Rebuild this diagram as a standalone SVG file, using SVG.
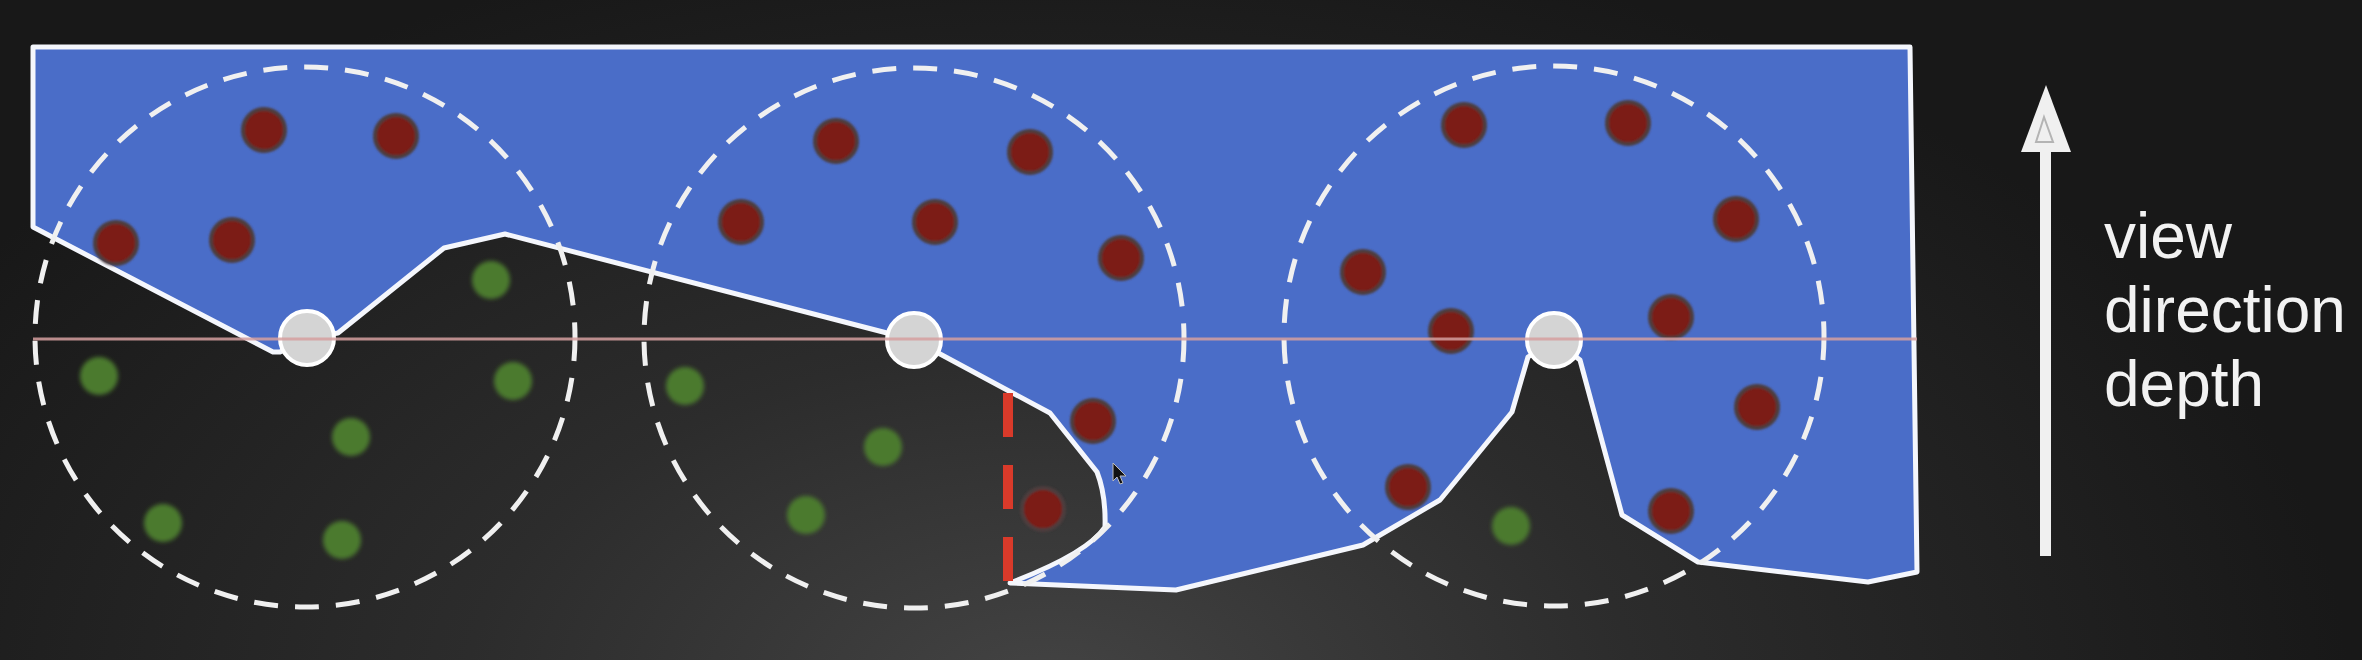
<svg xmlns="http://www.w3.org/2000/svg" width="2362" height="660" viewBox="0 0 2362 660">
<defs>
<radialGradient id="bg" gradientUnits="userSpaceOnUse" cx="1050" cy="700" r="1300" gradientTransform="translate(1050 700) scale(1 0.6) translate(-1050 -700)">
<stop offset="0" stop-color="#444444"/>
<stop offset="0.45" stop-color="#2c2c2c"/>
<stop offset="1" stop-color="#181818"/>
</radialGradient>
<filter id="soft" x="-50%" y="-50%" width="200%" height="200%"><feGaussianBlur stdDeviation="2.2"/></filter>
<filter id="soft2" x="-50%" y="-50%" width="200%" height="200%"><feGaussianBlur stdDeviation="0.8"/></filter>
</defs>
<style>
.region{fill:#4a6dc8;stroke:#f4f6fc;stroke-width:5;stroke-linejoin:round}
.kernel{fill:none;stroke:#f0f0f0;stroke-width:5;stroke-dasharray:24 17}
.red{fill:#7c1a14;stroke:#4e3c3e;stroke-width:4;filter:url(#soft2)}
.green{fill:#4b7a2e;filter:url(#soft)}
.pixel{fill:#d4d4d4;stroke:#ffffff;stroke-width:4}
.depth{stroke:#d6a0a0;stroke-width:3;opacity:0.85}
.cut{stroke:#d93a2a;stroke-width:10;stroke-dasharray:44 28}
.label{font-family:"Liberation Sans",Arial,sans-serif;font-size:64px;fill:#f2f2f2}
</style>
<rect id="background" x="0" y="0" width="2362" height="660" fill="url(#bg)"/>
<g id="visible-region">
<path class="region" d="M33,47 L1910,47 L1917,572 L1868,582 L1698,562 L1622,515 L1580,360 L1554,340 L1528,357 L1512,412 L1440,500 L1363,545 L1176,590 L1010,583 Q1088,553 1105,527 Q1106,495 1097,472 L1050,413 L914,340 L505,234 L444,248 L338,333 L307,338 L280,352 L273,352 L33,227 Z"/>
</g>
<g id="cut-line"><line class="cut" x1="1008" y1="393" x2="1008" y2="583"/></g>
<g id="samples-red">
<circle class="red" cx="264" cy="130" r="21"/>
<circle class="red" cx="396" cy="136" r="21"/>
<circle class="red" cx="116" cy="243" r="21"/>
<circle class="red" cx="232" cy="240" r="21"/>
<circle class="red" cx="741" cy="222" r="21"/>
<circle class="red" cx="836" cy="141" r="21"/>
<circle class="red" cx="1030" cy="152" r="21"/>
<circle class="red" cx="935" cy="222" r="21"/>
<circle class="red" cx="1121" cy="258" r="21"/>
<circle class="red" cx="1093" cy="421" r="21"/>
<circle class="red" cx="1043" cy="509" r="21"/>
<circle class="red" cx="1464" cy="125" r="21"/>
<circle class="red" cx="1628" cy="123" r="21"/>
<circle class="red" cx="1736" cy="219" r="21"/>
<circle class="red" cx="1363" cy="272" r="21"/>
<circle class="red" cx="1451" cy="331" r="21"/>
<circle class="red" cx="1671" cy="317" r="21"/>
<circle class="red" cx="1757" cy="407" r="21"/>
<circle class="red" cx="1408" cy="487" r="21"/>
<circle class="red" cx="1671" cy="511" r="21"/>
</g>
<g id="samples-green">
<circle class="green" cx="491" cy="280" r="19"/>
<circle class="green" cx="99" cy="376" r="19"/>
<circle class="green" cx="513" cy="381" r="19"/>
<circle class="green" cx="351" cy="437" r="19"/>
<circle class="green" cx="163" cy="523" r="19"/>
<circle class="green" cx="342" cy="540" r="19"/>
<circle class="green" cx="685" cy="386" r="19"/>
<circle class="green" cx="883" cy="447" r="19"/>
<circle class="green" cx="806" cy="515" r="19"/>
<circle class="green" cx="1511" cy="526" r="19"/>
</g>
<g id="kernel-1"><circle class="kernel" cx="305" cy="337" r="270"/></g>
<g id="kernel-2"><circle class="kernel" cx="914" cy="338" r="270"/></g>
<g id="kernel-3"><circle class="kernel" cx="1554" cy="336" r="270"/></g>
<g id="pixel-1"><circle class="pixel" cx="307" cy="338" r="27"/></g>
<g id="pixel-2"><circle class="pixel" cx="914" cy="340" r="27"/></g>
<g id="pixel-3"><circle class="pixel" cx="1554" cy="340" r="27"/></g>
<g id="depth-line"><line class="depth" x1="33" y1="339" x2="1917" y2="339"/></g>
<g id="cursor"><polygon points="1113,463 1113,481 1117,477 1120,484 1123,483 1120,476 1126,476" fill="#111" stroke="#bbb" stroke-width="1"/></g>
<g id="connectors">
<rect x="2040" y="148" width="11" height="408" fill="#f0f0f0"/>
<polygon points="2046,85 2021,152 2071,152" fill="#f0f0f0"/>
<polygon points="2044,117 2036,142 2053,142" fill="none" stroke="#b4b4b4" stroke-width="2"/>
</g>
<g id="label">
<text class="label" x="2104" y="258">view</text>
<text class="label" x="2104" y="332">direction</text>
<text class="label" x="2104" y="406">depth</text>
</g>
</svg>
